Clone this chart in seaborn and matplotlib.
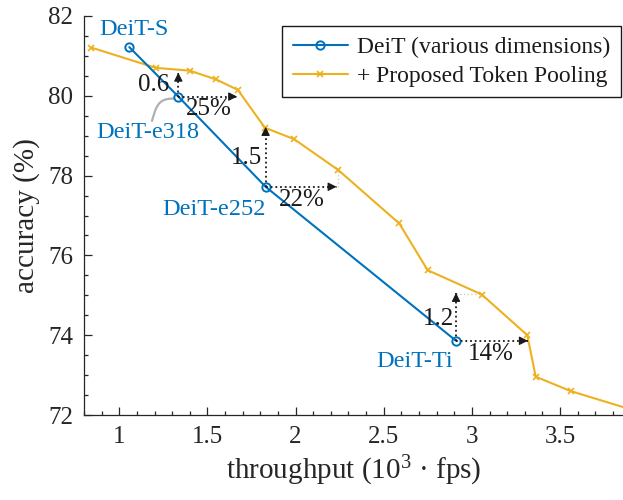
import numpy as np
import pandas as pd
import matplotlib
matplotlib.use("Agg")
import matplotlib.pyplot as plt
from matplotlib.path import Path
from matplotlib.patches import PathPatch
import seaborn as sns

# DeiT baselines (throughput in 10^3 fps, top-1 accuracy in %)
deit_names = ["DeiT-S", "DeiT-e318", "DeiT-e252", "DeiT-Ti"]
deit_throughput = [1.057, 1.335, 1.83, 2.91]
deit_accuracy = [81.22, 79.98, 77.72, 73.86]

# DeiT with the proposed token pooling
pool_throughput = [0.84, 1.208, 1.40, 1.549, 1.672, 1.826, 1.993, 2.242,
                   2.588, 2.749, 3.056, 3.314, 3.362, 3.56, 3.93]
pool_accuracy = [81.21, 80.70, 80.63, 80.41, 80.15, 79.20, 78.91, 78.14,
                 76.80, 75.63, 75.02, 74.00, 72.96, 72.60, 72.10]

# accuracy gain and throughput gain (%) relative to selected baselines
gain_models = ["DeiT-e318", "DeiT-e252", "DeiT-Ti"]
gain_accuracy = [0.6, 1.5, 1.2]
gain_speed = [25, 22, 14]

BLUE = "#0072BD"
ORANGE = "#EDB120"
INK = "#262626"

sns.set_theme(style="ticks")
plt.rcParams["font.family"] = ["Liberation Serif", "DejaVu Serif"]
plt.rcParams["mathtext.fontset"] = "custom"
plt.rcParams["mathtext.rm"] = "Liberation Serif"
plt.rcParams["mathtext.it"] = "Liberation Serif:italic"

fig = plt.figure(figsize=(6.23, 5.0), dpi=100)
ax = fig.add_axes([84 / 623, 85 / 500, 1 - 84 / 623, 399 / 500])

deit_df = pd.DataFrame({"throughput": deit_throughput, "accuracy": deit_accuracy})
pool_df = pd.DataFrame({"throughput": pool_throughput, "accuracy": pool_accuracy})

sns.lineplot(data=deit_df, x="throughput", y="accuracy", ax=ax, color=BLUE,
             lw=1.5, marker="o", markersize=6, markerfacecolor="none",
             markeredgecolor=BLUE, markeredgewidth=1.4,
             label="DeiT (various dimensions)", zorder=4)
sns.lineplot(data=pool_df, x="throughput", y="accuracy", ax=ax, color=ORANGE,
             lw=1.5, marker="x", markersize=4.5, markeredgecolor=ORANGE,
             markeredgewidth=1.2, label="+ Proposed Token Pooling", zorder=3)

ax.set_xlim(0.8, 3.857)
ax.set_ylim(72, 82)
ax.set_xticks([1, 1.5, 2, 2.5, 3, 3.5])
ax.set_xticklabels(["1", "1.5", "2", "2.5", "3", "3.5"])
ax.set_xticks(np.arange(0.8, 3.86, 0.1), minor=True)
ax.set_yticks([72, 74, 76, 78, 80, 82])
ax.set_yticks(np.arange(72, 82.01, 0.5), minor=True)
ax.tick_params(which="both", direction="in", colors=INK, width=0.9,
               labelsize=18, labelcolor=INK)
ax.tick_params(which="major", length=6, pad=8)
ax.tick_params(which="minor", length=3)
for side in ["top", "right"]:
    ax.spines[side].set_visible(False)
for side in ["left", "bottom"]:
    ax.spines[side].set_color(INK)
    ax.spines[side].set_linewidth(0.9)

ax.set_xlabel("throughput (10$^3$ · fps)", fontsize=21, color=INK, labelpad=4)
ax.set_ylabel("accuracy (%)", fontsize=21, color=INK, labelpad=6)

# model name labels
name_pos = {"DeiT-S": (1.081, 81.65), "DeiT-e318": (1.16, 79.07),
            "DeiT-e252": (1.537, 77.14), "DeiT-Ti": (2.677, 73.33)}
for name in deit_names:
    x, y = name_pos[name]
    ax.text(x, y, name, color=BLUE, fontsize=17.5, ha="center", va="center",
            zorder=6)

# curved leader from the DeiT-e318 label to its point
leader = Path([(1.184, 79.35), (1.208, 79.69), (1.214, 79.945), (1.31, 79.93)],
              [Path.MOVETO, Path.CURVE4, Path.CURVE4, Path.CURVE4])
ax.add_patch(PathPatch(leader, facecolor="none", edgecolor="#b0b0b0", lw=1.6,
                       zorder=2))

# gain arrows
def dotted_arrow(x0, y0, x1, y1):
    ax.plot([x0, x1], [y0, y1], color="k", lw=1.3, ls=(0, (1, 1.6)), zorder=5)
    ax.annotate("", xy=(x1, y1), xytext=(x0 + (x1 - x0) * 0.9, y0 + (y1 - y0) * 0.9),
                arrowprops=dict(arrowstyle="-|>", color="k", lw=0.8,
                                mutation_scale=13, shrinkA=0, shrinkB=0),
                zorder=5)

acc_label_pos = {"DeiT-e318": (1.194, 80.27), "DeiT-e252": (1.724, 78.44),
                 "DeiT-Ti": (2.808, 74.41)}
spd_label_pos = {"DeiT-e318": (1.509, 79.67), "DeiT-e252": (2.034, 77.39),
                 "DeiT-Ti": (3.108, 73.53)}
for name, dacc, dspd in zip(gain_models, gain_accuracy, gain_speed):
    i = deit_names.index(name)
    x0, y0 = deit_throughput[i], deit_accuracy[i]
    dotted_arrow(x0, y0, x0, y0 + dacc)
    dotted_arrow(x0, y0, x0 * (1 + dspd / 100), y0)
    ax.text(*acc_label_pos[name], f"{dacc:.1f}", fontsize=18, ha="center",
            va="center", color="k", zorder=6)
    ax.text(*spd_label_pos[name], f"{dspd}%", fontsize=18, ha="center",
            va="center", color="k", zorder=6)

# faint guides from arrow tips to the matching pooled points
ax.plot([2.242, 2.242], [77.72, 78.14], color="#cfcfcf", lw=1.0, ls=":", zorder=1)
ax.plot([2.91, 3.056], [75.03, 75.03], color="#cfcfcf", lw=1.0, ls=":", zorder=1)

leg = ax.legend(loc="upper right", bbox_to_anchor=(621 / 623, 1 - 26 / 500),
                bbox_transform=fig.transFigure, borderaxespad=0, fontsize=17,
                handlelength=2.33, handletextpad=0.4, borderpad=0.45,
                labelspacing=0.3, fancybox=False, framealpha=1,
                edgecolor="k")
leg.get_frame().set_linewidth(1.0)
for t in leg.get_texts():
    t.set_color("k")

fig.savefig("out.png", dpi=100)
